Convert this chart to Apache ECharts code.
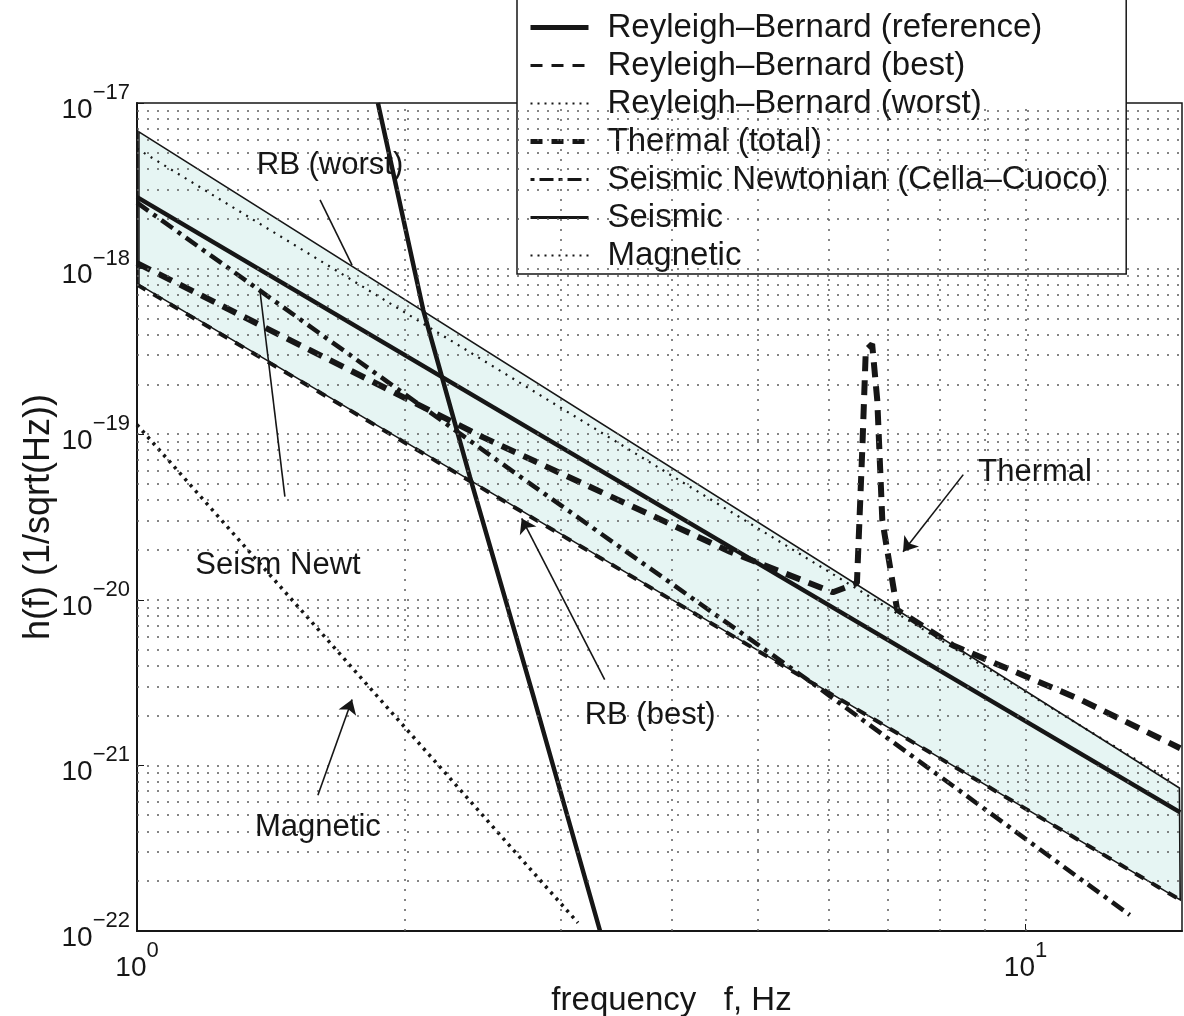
<!DOCTYPE html>
<html lang="en">
<head>
<meta charset="UTF-8">
<title>h(f) noise curves</title>
<script src="https://cdn.jsdelivr.net/npm/echarts@6/dist/echarts.min.js"></script>
<style>html,body{margin:0;background:#fff}#main{width:1184px;height:1016px}</style>
</head>
<body>
<div id="main"></div>
<script>
// values: f in Hz, h in 1/sqrt(Hz)
let rbRefF = [1.867, 2.10, 2.37, 2.80, 3.32]
let rbRefH = [1e-17, 5.6e-19, 5.5e-20, 2.5e-21, 1e-22]
let rbBestF = [1, 14.93]
let rbBestH = [8.0e-19, 1.54e-22]
let rbWorstF = [1, 14.5]
let rbWorstH = [5.3e-18, 8.2e-22]
let thermalF = [1, 2.45, 4.65, 6.07, 6.46, 6.55, 6.61, 6.72, 6.81, 6.90, 7.17, 8.29, 11.52, 14.93]
let thermalH = [1.08e-18, 9.6e-20, 1.95e-20, 1.11e-20, 1.26e-20, 8.0e-20, 3.2e-19, 3.5e-19, 1.6e-19, 3.0e-20, 8.7e-21, 5.3e-21, 2.5e-21, 1.27e-21]
let seisNewtF = [1, 2.61, 5.68, 13.1]
let seisNewtH = [2.5e-18, 6.3e-20, 3.3e-21, 1.25e-22]
let seismicF = [1, 14.93]
let seismicH = [2.7e-18, 5.2e-22]
let magneticF = [1, 3.135]
let magneticH = [1.14e-19, 1.12e-22]

// shaded band (upper and lower edge)
let bandTopF = [1.005, 14.9]
let bandTopH = [6.7e-18, 7.3e-22]
let bandBotF = [1.005, 14.93]
let bandBotH = [8.0e-19, 1.54e-22]

// tick labels
let xTicks = [1, 10]
let yTicks = [1e-22, 1e-21, 1e-20, 1e-19, 1e-18, 1e-17]

// dotted grid
let gridF = [2, 3, 4, 5, 6, 7, 8, 9, 10]
let gridMant = [1, 2, 3, 4, 5, 6, 7, 8, 9]
let gridExp = [-22, -21, -20, -19, -18]

// annotations
let noteText = ['RB (worst)', 'Seism Newt', 'Magnetic', 'RB (best)', 'Thermal']
let noteF = [1.649, 1.441, 1.598, 3.78, 10.25]
let noteH = [4.2e-18, 1.62e-20, 4.2e-22, 2.0e-21, 5.9e-20]
// [from, to, arrow?]
let noteLines = [
  [[1.607, 2.6e-18], [1.746, 1.05e-18], false],
  [[1.467, 4.2e-20], [1.375, 7.4e-19], false],
  [[1.598, 6.6e-22], [1.746, 2.5e-21], true],
  [[3.36, 3.3e-21], [2.71, 3.1e-20], true],
  [[8.51, 5.7e-20], [7.28, 1.95e-20], true]
]

const FONT = '"Liberation Sans", Arial, Helvetica, sans-serif'
const INK = '#161616'
const X0 = 1, X1 = 15, Y0 = 0.9999e-22, Y1 = 1e-17

function pairs(fs, hs) { return fs.map((f, i) => [f, hs[i]]) }

function expLabel(v) {
  let e = Math.round(Math.log10(v))
  return '{b|10}{e|' + String(e).replace('-', '\u2212') + '}'
}
let labelRich = {
  b: {fontSize: 28, fontFamily: FONT, color: INK, padding: [14, 0, 0, 0], verticalAlign: 'bottom'},
  e: {fontSize: 22, fontFamily: FONT, color: INK, verticalAlign: 'top'}
}

// grid lines as point pairs spanning the plot
let gridLines = gridF.map(f => [{coord: [f, Y0]}, {coord: [f, Y1]}])
gridExp.forEach(e => gridMant.forEach(m => {
  if (!(e === -22 && m === 1)) {
    let h = m * Math.pow(10, e)
    gridLines.push([{coord: [X0, h]}, {coord: [X1, h]}])
  }
}))

function lineSeries(name, fs, hs, width, dash, z) {
  return {
    name: name, type: 'line', data: pairs(fs, hs), color: INK,
    symbol: 'none', showSymbol: false, smooth: false, z: z || 3,
    lineStyle: {color: INK, width: width, type: dash, cap: 'butt'}
  }
}

let legendNames = ['Reyleigh\u2013Bernard (reference)', 'Reyleigh\u2013Bernard (best)', 'Reyleigh\u2013Bernard (worst)',
  'Thermal (total)', 'Seismic Newtonian (Cella\u2013Cuoco)', 'Seismic', 'Magnetic']
let legendLine = [
  {width: 5, type: 'solid'}, {width: 3, type: [12, 9]}, {width: 2, type: [2, 5]},
  {width: 5, type: [12, 9]}, {width: 3, type: [4, 5, 14, 5]}, {width: 3, type: 'solid'}, {width: 2, type: [2, 5]}
]

let myChart = echarts.init(document.getElementById('main'))
let option = {
  animation: false,
  grid: {left: 137, right: 2, top: 103, bottom: 85, show: true, borderColor: INK, borderWidth: 1.5,
    backgroundColor: '#fff', containLabel: false, outerBoundsMode: 'none'},
  legend: {
    orient: 'vertical', left: 517, top: -8,
    padding: [19, 18, 2, 11],
    itemGap: 5, itemWidth: 58, itemHeight: 14,
    backgroundColor: '#fff', borderColor: INK, borderWidth: 1.5,
    selectedMode: false,
    itemStyle: {opacity: 0},
    textStyle: {fontFamily: FONT, fontSize: 33, color: INK, padding: [0, 0, 0, 14], lineHeight: 32},
    data: legendNames.map((n, i) => ({name: n, itemStyle: {opacity: 0},
      lineStyle: {color: INK, width: legendLine[i].width, type: legendLine[i].type}}))
  },
  xAxis: {
    type: 'log', logBase: 10, min: X0, max: X1,
    axisLine: {show: true, onZero: false, lineStyle: {color: INK, width: 2}},
    axisTick: {show: true, inside: true, length: 7, lineStyle: {color: INK}, customValues: xTicks},
    splitLine: {show: false},
    axisLabel: {formatter: expLabel, rich: labelRich, margin: 9, customValues: xTicks, hideOverlap: false},
    name: 'frequency   f, Hz', nameLocation: 'middle', nameGap: 53, nameMoveOverlap: false,
    nameTextStyle: {fontFamily: FONT, fontSize: 33, color: INK, padding: [0, 0, 0, 24]}
  },
  yAxis: {
    type: 'log', logBase: 10, min: Y0, max: Y1,
    axisLine: {show: true, onZero: false, lineStyle: {color: INK, width: 2}},
    axisTick: {show: true, inside: true, length: 7, lineStyle: {color: INK}, customValues: yTicks},
    splitLine: {show: false},
    axisLabel: {formatter: expLabel, rich: labelRich, margin: 7, customValues: yTicks, hideOverlap: false},
    name: 'h(f) (1/sqrt(Hz))', nameLocation: 'middle', nameGap: 80, nameRotate: 90, nameMoveOverlap: false,
    nameTextStyle: {fontFamily: FONT, fontSize: 36, color: INK}
  },
  series: [
    {
      name: 'grid', type: 'line', data: [], silent: true, z: 1,
      markLine: {silent: true, symbol: 'none', label: {show: false}, animation: false,
        lineStyle: {color: '#5e5e5e', width: 1.5, type: [2, 8]}, data: gridLines}
    },
    {
      name: 'band', type: 'custom', silent: true, clip: true, z: 2,
      data: [[bandTopF[0], bandTopH[0]]],
      renderItem: function (params, api) {
        let pts = pairs(bandTopF, bandTopH).concat(pairs(bandBotF, bandBotH).reverse()).map(p => api.coord(p))
        return {type: 'polygon', shape: {points: pts},
          style: {fill: 'rgba(130, 205, 195, 0.2)', stroke: INK, lineWidth: 1.6}}
      }
    },
    lineSeries('Magnetic', magneticF, magneticH, 3.5, [3, 5]),
    lineSeries('Seismic', seismicF, seismicH, 4.5, 'solid'),
    lineSeries('Reyleigh\u2013Bernard (worst)', rbWorstF, rbWorstH, 2.2, [2, 6]),
    lineSeries('Reyleigh\u2013Bernard (best)', rbBestF, rbBestH, 4, [10, 9]),
    lineSeries('Seismic Newtonian (Cella\u2013Cuoco)', seisNewtF, seisNewtH, 4.5, [14, 6, 4, 6]),
    lineSeries('Thermal (total)', thermalF, thermalH, 6, [15, 9]),
    lineSeries('Reyleigh\u2013Bernard (reference)', rbRefF, rbRefH, 4.5, 'solid', 4),
    {
      name: 'notes', type: 'line', data: [], silent: true, z: 5,
      markLine: {
        silent: true, animation: false, label: {show: false}, symbolSize: 14,
        lineStyle: {color: INK, width: 1.6, type: 'solid'},
        data: noteLines.map(l => [
          {coord: l[0], symbol: 'none'},
          {coord: l[1], symbol: l[2] ? 'arrow' : 'none'}
        ])
      },
      markPoint: {
        silent: true, animation: false, symbol: 'circle', symbolSize: 1,
        itemStyle: {color: 'rgba(0,0,0,0)'},
        label: {show: true, position: 'inside', formatter: '{b}', fontFamily: FONT, fontSize: 31, color: INK},
        data: noteText.map((t, i) => ({name: t, coord: [noteF[i], noteH[i]]}))
      }
    }
  ]
}
myChart.setOption(option)
</script>
</body>
</html>
